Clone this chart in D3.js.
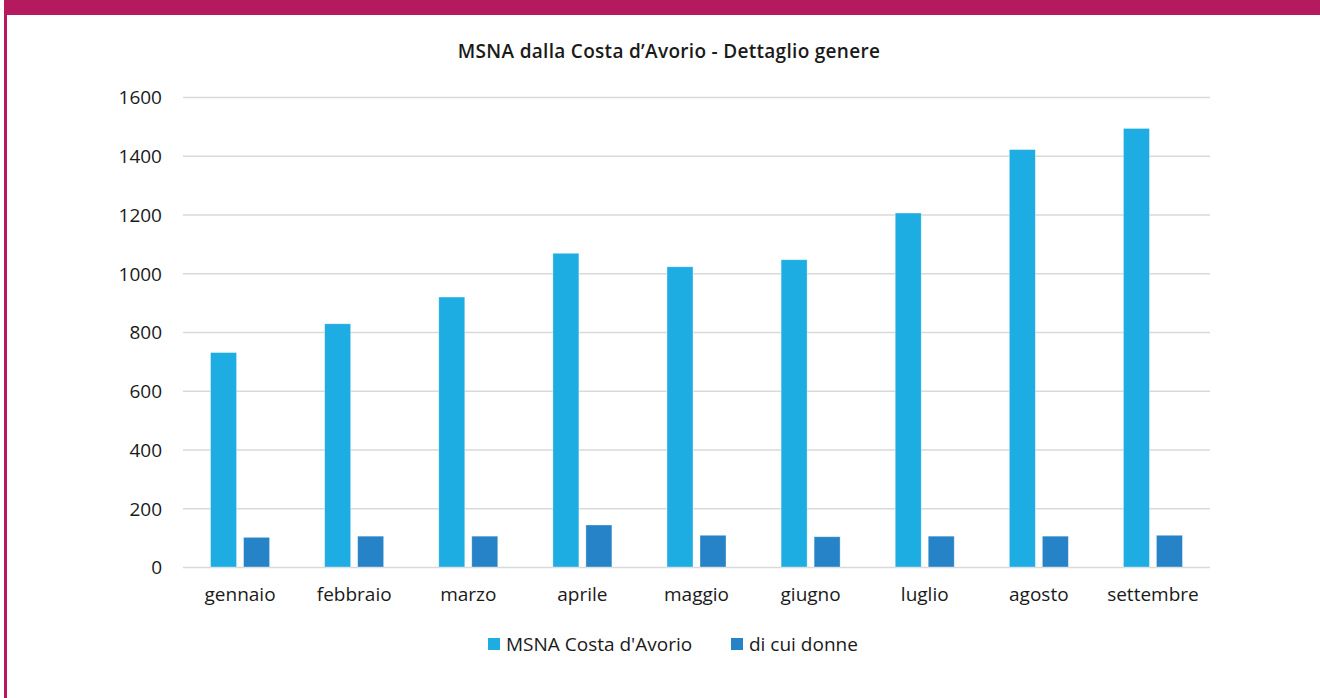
<!DOCTYPE html>
<html>
<head>
<meta charset="utf-8">
<script src="https://cdn.jsdelivr.net/npm/d3@7"></script>
<style>
  body { margin: 0; background: #fff; }
  #graf { width: 1320px; height: 698px; }
  text { font-family: 'Open Sans', Lato, sans-serif; fill: #1a1a1a; }
  .titulo-grafica { font-weight: 600; font-size: 19px; letter-spacing: 0.3px; }
  .eje text { font-size: 19px; }
  .leyenda text { font-size: 19px; }
</style>
</head>
<body>
<div id="graf"></div>
<script>
// I. Dati
mesi = ['gennaio', 'febbraio', 'marzo', 'aprile', 'maggio', 'giugno', 'luglio', 'agosto', 'settembre']
serie = ['MSNA Costa d\'Avorio', 'di cui donne']
totale = [730, 828, 919, 1068, 1022, 1046, 1205, 1421, 1493]
donne = [101, 105, 105, 143, 108, 103, 105, 105, 108]
ticksY = [0, 200, 400, 600, 800, 1000, 1200, 1400, 1600]
colori = ['#1eade3', '#2783c7']

// II. Configurazione
ancho_total = 1320
alto_total = 698
margins = { top: 97, left: 183, right: 110, bottom: 131 }
ancho = ancho_total - margins.left - margins.right
alto = alto_total - margins.top - margins.bottom

svg = d3.select('#graf').append('svg')
        .attr('width', ancho_total)
        .attr('height', alto_total)

// cornice magenta
svg.append('rect')
   .attr('x', 4).attr('y', 0)
   .attr('width', ancho_total - 4).attr('height', 15)
   .attr('fill', '#b5195e')
svg.append('rect')
   .attr('x', 4).attr('y', 0)
   .attr('width', 3).attr('height', alto_total)
   .attr('fill', '#b5195e')

g = svg.append('g')
       .attr('transform', `translate(${ margins.left }, ${ margins.top })`)

y = d3.scaleLinear()
      .domain([0, 1600])
      .range([alto, 0])

x = d3.scaleBand()
      .domain(mesi)
      .range([0, ancho])

x1 = d3.scaleBand()
       .domain(serie)
       .range([0, x.bandwidth()])
       .paddingInner(0.212)
       .paddingOuter(0.835)

color = d3.scaleOrdinal()
          .domain(serie)
          .range(colori)

titulo = svg.append('text')
            .attr('x', 669)
            .attr('y', 58)
            .attr('text-anchor', 'middle')
            .attr('class', 'titulo-grafica')
            .text('MSNA dalla Costa d’Avorio - Dettaglio genere')

// III. Assi e griglia
yAxisGroup = g.append('g')
              .attr('class', 'eje')
              .call(d3.axisLeft(y).tickValues(ticksY).tickFormat(d3.format('d'))
                      .tickSize(-ancho).tickPadding(21))
yAxisGroup.select('.domain').remove()
yAxisGroup.selectAll('line')
          .attr('stroke', '#d9d9d9')
          .attr('stroke-width', 1.5)
yAxisGroup.selectAll('text')
          .attr('dy', '0.36em')

xAxisGroup = g.append('g')
              .attr('class', 'eje')
              .attr('transform', `translate(0, ${ alto })`)
              .call(d3.axisBottom(x).tickSize(0).tickPadding(20))
xAxisGroup.select('.domain').remove()
xAxisGroup.selectAll('text')
          .attr('dy', '0.72em')

// IV. Barre
dati = mesi.map((m, i) => ({ mese: m, valori: [
  { serie: serie[0], v: totale[i] },
  { serie: serie[1], v: donne[i] }
] }))

gruppi = g.selectAll('.gruppo')
          .data(dati)
          .enter()
          .append('g')
            .attr('class', 'gruppo')
            .attr('transform', d => `translate(${ x(d.mese) }, 0)`)

gruppi.selectAll('rect')
      .data(d => d.valori)
      .enter()
      .append('rect')
        .attr('x', d => x1(d.serie))
        .attr('y', d => y(d.v))
        .attr('width', x1.bandwidth())
        .attr('height', d => y(0) - y(d.v))
        .attr('fill', d => color(d.serie))
        .attr('stroke', '#ffffff')
        .attr('stroke-opacity', 0.45)
        .attr('stroke-width', 0.75)

// V. Legenda
leyenda = svg.append('g')
             .attr('class', 'leyenda')
             .attr('transform', 'translate(488, 638)')

posLegenda = [0, 243]
serie.forEach((s, i) => {
  voce = leyenda.append('g')
                .attr('transform', `translate(${ posLegenda[i] }, 0)`)
  voce.append('rect')
      .attr('width', 12)
      .attr('height', 12)
      .attr('fill', color(s))
  voce.append('text')
      .attr('x', 18)
      .attr('y', 12.5)
      .text(s)
})
</script>
</body>
</html>
